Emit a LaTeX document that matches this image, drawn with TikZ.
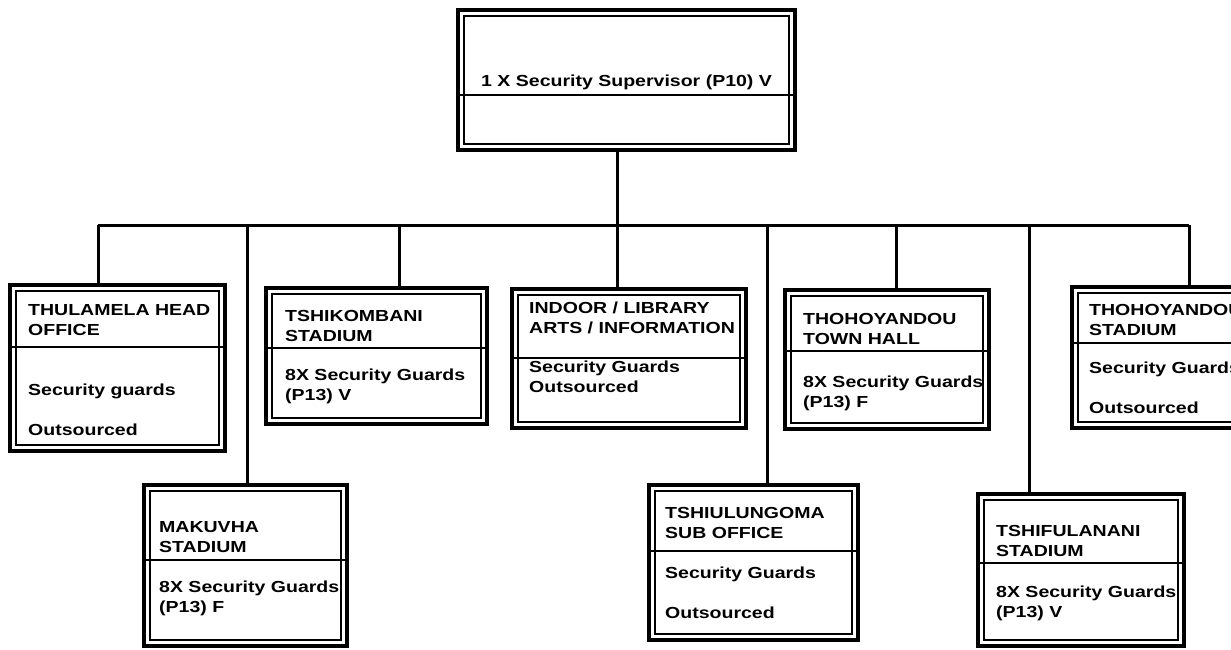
\documentclass[tikz,border=0pt]{standalone}
\usepackage{fontspec}
\setmainfont{Liberation Sans}[FakeStretch=1.22]
\usepackage{tikz}
\tikzset{font={\fontsize{16pt}{19.5pt}\selectfont\bfseries}}

\begin{document}
\begin{tikzpicture}[x=1pt,y=-1pt,
office/.style={draw, line width=4.5pt, inner sep=0pt, outer sep=0pt, anchor=north west},
inner/.style={line width=1.3pt},
split/.style={line width=2.5pt},
link/.style={line width=3pt},
txt/.style={anchor=base west, align=left, inner sep=0pt}
]
\path[use as bounding box, clip] (0,0) rectangle (1231,650);

%boxes
\node[office, minimum width=337pt, minimum height=140pt] (sup) at (458,10) {};
\node[office, minimum width=215pt, minimum height=166pt] (thul) at (10,285) {};
\node[office, minimum width=221pt, minimum height=136pt] (tshik) at (266,288) {};
\node[office, minimum width=234pt, minimum height=139pt] (indoor) at (512,289) {};
\node[office, minimum width=204pt, minimum height=139pt] (town) at (785,290) {};
\node[office, minimum width=218pt, minimum height=141pt] (stad) at (1072,287) {};
\node[office, minimum width=203pt, minimum height=161pt] (mak) at (144,485) {};
\node[office, minimum width=209pt, minimum height=155pt] (tshiu) at (649,485) {};
\node[office, minimum width=206pt, minimum height=152pt] (tshif) at (978,494) {};

\foreach \n in {sup,thul,tshik,indoor,town,stad,mak,tshiu,tshif}
  \draw[inner] ([shift={(6,6)}]\n.north west) rectangle ([shift={(-6,-6)}]\n.south east);

%dividers
\draw[split] (sup.west |- 0,95) -- (sup.east |- 0,95);
\draw[split] (thul.west |- 0,347) -- (thul.east |- 0,347);
\draw[split] (tshik.west |- 0,348) -- (tshik.east |- 0,348);
\draw[split] (indoor.west |- 0,358) -- (indoor.east |- 0,358);
\draw[split] (town.west |- 0,351) -- (town.east |- 0,351);
\draw[split] (stad.west |- 0,343) -- (stad.east |- 0,343);
\draw[split] (mak.west |- 0,560) -- (mak.east |- 0,560);
\draw[split] (tshiu.west |- 0,551) -- (tshiu.east |- 0,551);
\draw[split] (tshif.west |- 0,563) -- (tshif.east |- 0,563);

%texts (placed at the baseline of their last line)
\node[txt] (supt) at (481,87) {1 X Security Supervisor (P10) V};
\node[txt] (thulh) at (28,335) {THULAMELA HEAD\\OFFICE};
\node[txt] (thulb) at (28,435) {Security guards\\[20pt]Outsourced};
\node[txt] (tshikh) at (285,341) {TSHIKOMBANI\\STADIUM};
\node[txt] (tshikb) at (285,400) {8X Security Guards\\(P13) V};
\node[txt] (indoorh) at (529,333) {INDOOR / LIBRARY\\ARTS / INFORMATION};
\node[txt] (indoorb) at (529,392) {Security Guards\\Outsourced};
\node[txt] (townh) at (803,344) {THOHOYANDOU\\TOWN HALL};
\node[txt] (townb) at (803,407) {8X Security Guards\\(P13) F};
\node[txt] (stadh) at (1089,335) {THOHOYANDOU\\STADIUM};
\node[txt] (stadb) at (1089,413) {Security Guards\\[20pt]Outsourced};
\node[txt] (makh) at (159,552) {MAKUVHA\\STADIUM};
\node[txt] (makb) at (159,612) {8X Security Guards\\(P13) F};
\node[txt] (tshiuh) at (665,538) {TSHIULUNGOMA\\SUB OFFICE};
\node[txt] (tshiub) at (665,618) {Security Guards\\[20pt]Outsourced};
\node[txt] (tshifh) at (996,556) {TSHIFULANANI\\STADIUM};
\node[txt] (tshifb) at (996,617) {8X Security Guards\\(P13) V};

%bus
\coordinate (b1) at (98,225);
\coordinate (b2) at (247,225);
\coordinate (b3) at (399,225);
\coordinate (b4) at (617,225);
\coordinate (b5) at (767,225);
\coordinate (b6) at (896,225);
\coordinate (b7) at (1029,225);
\coordinate (b8) at (1189,225);
\draw[link] (b1) -- (b8);
\draw[link] (b4 |- sup.south) -- (b4);
\draw[link] (b1) -- (b1 |- thul.north);
\draw[link] (b2) -- (b2 |- mak.north);
\draw[link] (b3) -- (b3 |- tshik.north);
\draw[link] (b4) -- (b4 |- indoor.north);
\draw[link] (b5) -- (b5 |- tshiu.north);
\draw[link] (b6) -- (b6 |- town.north);
\draw[link] (b7) -- (b7 |- tshif.north);
\draw[link] (b8) -- (b8 |- stad.north);

\end{tikzpicture}
\end{document}
